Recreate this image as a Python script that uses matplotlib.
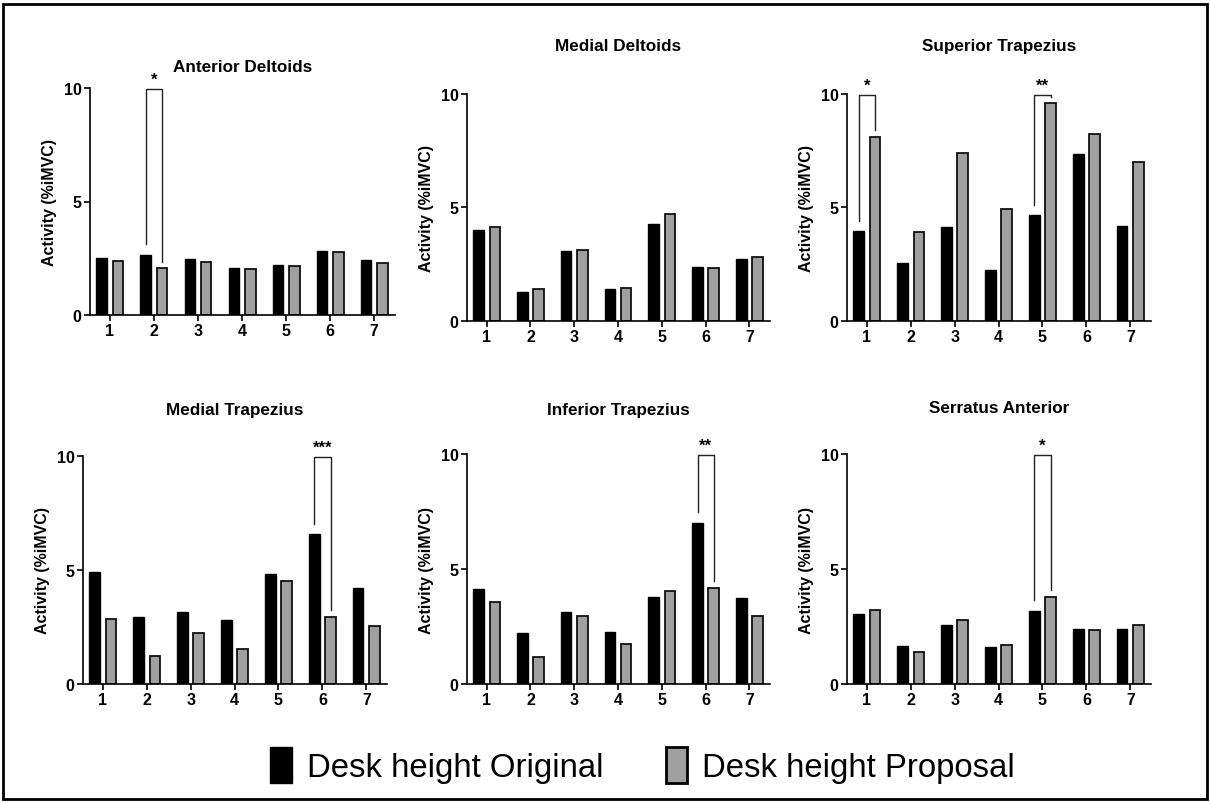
import matplotlib.pyplot as plt
from matplotlib.patches import Patch, Rectangle
import numpy as np

# EMG activity per position (1-7), original desk vs proposed desk
positions = [1, 2, 3, 4, 5, 6, 7]
muscles = ["Anterior Deltoids", "Medial Deltoids", "Superior Trapezius",
           "Medial Trapezius", "Inferior Trapezius", "Serratus Anterior"]

ant_delt_orig = [2.52, 2.66, 2.48, 2.08, 2.22, 2.83, 2.44]
ant_delt_prop = [2.38, 2.05, 2.35, 2.04, 2.17, 2.77, 2.29]
med_delt_orig = [4.00, 1.28, 3.08, 1.39, 4.24, 2.38, 2.73]
med_delt_prop = [4.11, 1.38, 3.11, 1.44, 4.69, 2.32, 2.81]
sup_trap_orig = [3.94, 2.53, 4.12, 2.25, 4.65, 7.33, 4.15]
sup_trap_prop = [8.09, 3.90, 7.38, 4.90, 9.56, 8.22, 6.99]
med_trap_orig = [4.90, 2.96, 3.14, 2.79, 4.84, 6.57, 4.19]
med_trap_prop = [2.86, 1.22, 2.24, 1.54, 4.53, 2.95, 2.54]
inf_trap_orig = [4.11, 2.20, 3.15, 2.26, 3.77, 7.02, 3.75]
inf_trap_prop = [3.58, 1.19, 2.95, 1.76, 4.06, 4.19, 2.95]
serr_ant_orig = [3.03, 1.65, 2.56, 1.62, 3.19, 2.38, 2.40]
serr_ant_prop = [3.21, 1.37, 2.79, 1.71, 3.77, 2.34, 2.56]

# significant differences: (position, stars)
sig_ant_delt = [(2, "*")]
sig_med_delt = []
sig_sup_trap = [(1, "*"), (5, "**")]
sig_med_trap = [(6, "***")]
sig_inf_trap = [(6, "**")]
sig_serr_ant = [(5, "*")]

orig_data = [ant_delt_orig, med_delt_orig, sup_trap_orig, med_trap_orig, inf_trap_orig, serr_ant_orig]
prop_data = [ant_delt_prop, med_delt_prop, sup_trap_prop, med_trap_prop, inf_trap_prop, serr_ant_prop]
sig_data = [sig_ant_delt, sig_med_delt, sig_sup_trap, sig_med_trap, sig_inf_trap, sig_serr_ant]

plt.rcParams['font.family'] = ['Liberation Sans', 'DejaVu Sans']

W, H = 1210, 804
fig = plt.figure(figsize=(12.1, 8.04), dpi=100)

# axes boxes in pixels: left, top, right, bottom
boxes = [(90, 89, 395, 316), (467, 94.5, 770, 321.7), (847, 94.5, 1151, 321.7),
         (83, 457, 387, 685), (467, 455, 770, 685), (847, 455, 1151, 685)]
title_pads = [12, 31, 31, 30, 29, 30]

bw = 0.24
off = 0.185
gray = '#a0a0a0'

for i in range(6):
    l, t, r, b = boxes[i]
    ax = fig.add_axes([l / W, 1 - b / H, (r - l) / W, (b - t) / H])
    x = np.array(positions)
    ax.bar(x - off, orig_data[i], width=bw, color='black', edgecolor='black', linewidth=1)
    ax.bar(x + off, prop_data[i], width=bw, color=gray, edgecolor='#111111', linewidth=1.3)

    for pos, stars in sig_data[i]:
        y1 = orig_data[i][pos - 1] + 0.45
        y2 = prop_data[i][pos - 1] + 0.3
        top = 9.95
        ax.plot([pos - off, pos - off, pos + off, pos + off], [y1, top, top, y2],
                color='#222222', linewidth=1.0, clip_on=False)
        ax.text(pos, top + 0.1, stars, ha='center', va='bottom',
                fontsize=12, fontweight='bold')

    ax.set_xlim(0.55, 7.47)
    ax.set_ylim(0, 10)
    ax.set_yticks([0, 5, 10])
    ax.set_xticks(positions)
    ax.spines['top'].set_visible(False)
    ax.spines['right'].set_visible(False)
    for s in ['left', 'bottom']:
        ax.spines[s].set_linewidth(1.2)
    ax.tick_params(axis='both', length=4, width=1.2, labelsize=11.5, pad=2)
    for lab in ax.get_xticklabels() + ax.get_yticklabels():
        lab.set_fontweight('bold')
    ax.set_ylabel("Activity (%iMVC)", fontsize=11.5, fontweight='bold', labelpad=5)
    ax.set_title(muscles[i], fontsize=12.3, fontweight='bold', pad=title_pads[i])

handles = [Patch(facecolor='black', edgecolor='black', label='Desk height Original'),
           Patch(facecolor=gray, edgecolor='black', linewidth=2, label='Desk height Proposal')]
fig.legend(handles=handles, loc='center', bbox_to_anchor=(0.531, 0.047), ncol=2,
           frameon=False, prop={'size': 23.7},
           handlelength=0.65, handleheight=1.3, handletextpad=0.45, columnspacing=1.9)

fig.patches.append(Rectangle((3 / W, 4 / H), 1 - 6 / W, 1 - 9 / H, transform=fig.transFigure,
                             fill=False, edgecolor='black', linewidth=2))

fig.savefig('out.png', dpi=100)
